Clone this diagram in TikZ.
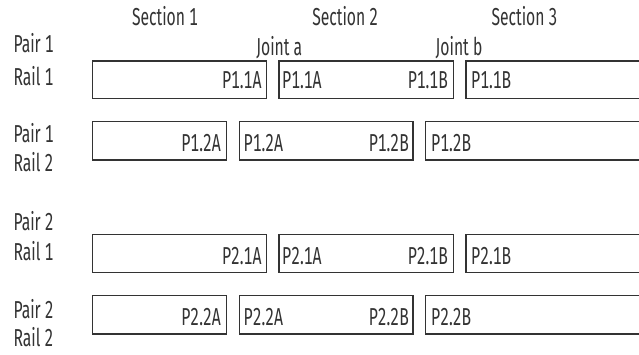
\documentclass[tikz,border=0pt]{standalone}
\usepackage{fontspec}
\setmainfont{Fira Sans}[FakeStretch=0.64,Numbers=Monospaced]
\definecolor{ink}{HTML}{333333}
\begin{document}
\begin{tikzpicture}[x=1pt,y=-1pt,
  rail/.style={draw=ink, line width=1.5pt},
  lbl/.style={text=ink, inner sep=0pt, font=\fontsize{24.5}{26}\selectfont},
  ]
\useasboundingbox (0,0) rectangle (639,354);
\clip (0,0) rectangle (639,354);
% headers
\node[lbl,anchor=base] (s1) at (165,25.5) {Section 1};
\node[lbl,anchor=base] (s2) at (345.3,25.5) {Section 2};
\node[lbl,anchor=base] (s3) at (524.5,25.5) {Section 3};
\node[lbl,anchor=base] (ja) at (279.3,55) {Joint a};
\node[lbl,anchor=base] (jb) at (459,55) {Joint b};
% left labels
\node[lbl,anchor=base west] (p1a) at (13.3,52.7) {Pair 1};
\node[lbl,anchor=base west] (r1a) at (13.3,85) {Rail 1};
\node[lbl,anchor=base west] (p1b) at (13.3,142.7) {Pair 1};
\node[lbl,anchor=base west] (r2a) at (13.3,171) {Rail 2};
\node[lbl,anchor=base west] (p2a) at (13.3,230.7) {Pair 2};
\node[lbl,anchor=base west] (r1b) at (13.3,260) {Rail 1};
\node[lbl,anchor=base west] (p2b) at (13.3,318.3) {Pair 2};
\node[lbl,anchor=base west] (r2b) at (13.3,346.7) {Rail 2};
% row 1
\draw[rail] (92.3,61) rectangle (266.3,98.7);
\draw[rail] (279,61) rectangle (453.7,98.7);
\draw[rail] (466,61) rectangle (680,98.7);
\node[lbl,anchor=base east] (a1) at (261.7,88.3) {P1.1A};
\node[lbl,anchor=base west] (a2) at (282,88.3) {P1.1A};
\node[lbl,anchor=base east] (a3) at (448,88.3) {P1.1B};
\node[lbl,anchor=base west] (a4) at (471,88.3) {P1.1B};
% row 2
\draw[rail] (92.3,121.7) rectangle (226.7,160);
\draw[rail] (239.3,121.7) rectangle (413,160);
\draw[rail] (425.7,121.7) rectangle (680,160);
\node[lbl,anchor=base east] (b1) at (221,151.7) {P1.2A};
\node[lbl,anchor=base west] (b2) at (243.5,151.7) {P1.2A};
\node[lbl,anchor=base east] (b3) at (409,151.7) {P1.2B};
\node[lbl,anchor=base west] (b4) at (431,151.7) {P1.2B};
% row 3
\draw[rail] (92.3,234.3) rectangle (266.3,272.3);
\draw[rail] (279,234.3) rectangle (453.7,272.3);
\draw[rail] (466,234.3) rectangle (680,272.3);
\node[lbl,anchor=base east] (c1) at (261.7,264.3) {P2.1A};
\node[lbl,anchor=base west] (c2) at (282,264.3) {P2.1A};
\node[lbl,anchor=base east] (c3) at (448,264.3) {P2.1B};
\node[lbl,anchor=base west] (c4) at (471,264.3) {P2.1B};
% row 4
\draw[rail] (92.3,295.7) rectangle (226.7,334);
\draw[rail] (239.3,295.7) rectangle (413,334);
\draw[rail] (425.7,295.7) rectangle (680,334);
\node[lbl,anchor=base east] (d1) at (221,325.7) {P2.2A};
\node[lbl,anchor=base west] (d2) at (243.5,325.7) {P2.2A};
\node[lbl,anchor=base east] (d3) at (409,325.7) {P2.2B};
\node[lbl,anchor=base west] (d4) at (431,325.7) {P2.2B};
\end{tikzpicture}
\end{document}
